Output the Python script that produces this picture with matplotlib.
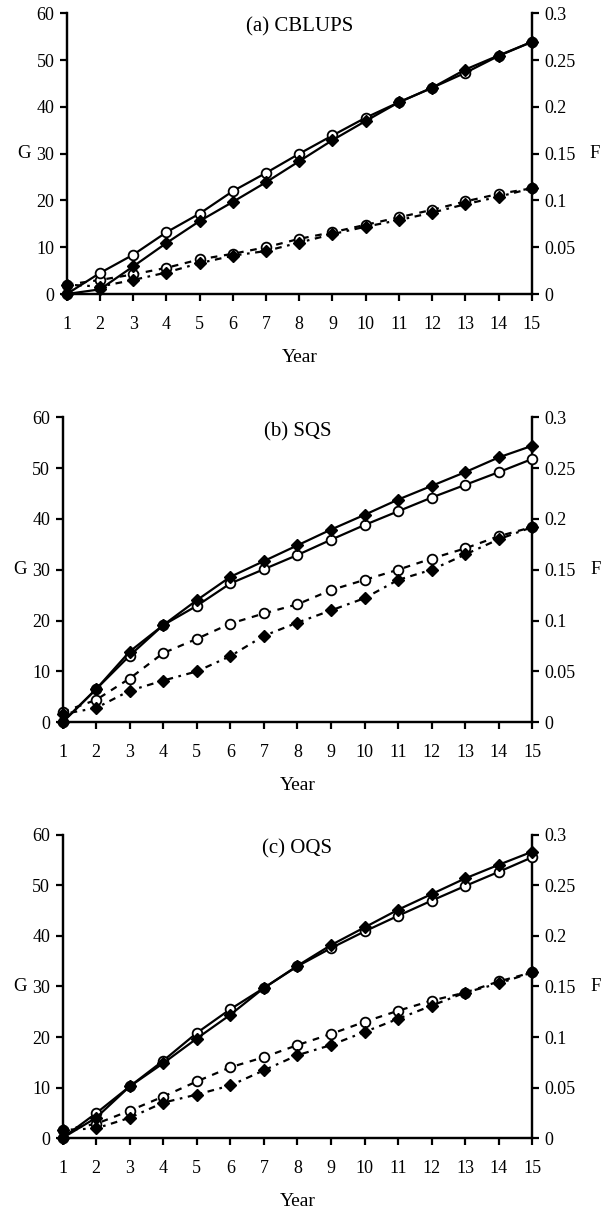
import matplotlib
matplotlib.use("Agg")
import matplotlib.pyplot as plt

plt.rcParams['font.family'] = ['Liberation Serif', 'DejaVu Serif']

years = list(range(1, 16))

# panel (a) CBLUPS
a_g_circle = [0, 4.5, 8.4, 13.2, 17.2, 22.0, 25.9, 30.0, 33.9, 37.7, 41.0, 44.1, 47.3, 50.9, 53.9]
a_g_diamond = [0, 1.0, 5.9, 10.9, 15.6, 19.7, 23.9, 28.4, 32.9, 37.0, 41.0, 44.1, 48.0, 51.0, 53.9]
a_f_circle = [0.010, 0.015, 0.021, 0.028, 0.037, 0.043, 0.050, 0.059, 0.066, 0.074, 0.082, 0.090, 0.099, 0.107, 0.113]
a_f_diamond = [0.010, 0.008, 0.015, 0.023, 0.033, 0.041, 0.046, 0.055, 0.064, 0.072, 0.079, 0.087, 0.096, 0.104, 0.113]

# panel (b) SQS
b_g_circle = [0, 6.5, 13.1, 19.1, 22.9, 27.3, 30.1, 32.9, 35.9, 38.8, 41.5, 44.2, 46.7, 49.2, 51.8]
b_g_diamond = [0, 6.5, 13.9, 19.1, 24.0, 28.6, 31.7, 34.8, 37.9, 40.8, 43.8, 46.5, 49.2, 52.1, 54.4]
b_f_circle = [0.010, 0.022, 0.043, 0.068, 0.082, 0.097, 0.107, 0.116, 0.130, 0.140, 0.150, 0.161, 0.171, 0.183, 0.192]
b_f_diamond = [0.008, 0.014, 0.031, 0.041, 0.050, 0.065, 0.085, 0.098, 0.110, 0.122, 0.140, 0.150, 0.165, 0.180, 0.192]

# panel (c) OQS
c_g_circle = [0, 4.9, 10.2, 15.3, 20.8, 25.5, 29.7, 34.0, 37.6, 40.9, 44.0, 47.0, 49.9, 52.7, 55.6]
c_g_diamond = [0, 4.0, 10.2, 14.8, 19.7, 24.4, 29.7, 34.1, 38.2, 41.7, 45.2, 48.3, 51.4, 54.1, 56.7]
c_f_circle = [0.008, 0.014, 0.027, 0.041, 0.056, 0.070, 0.080, 0.092, 0.103, 0.115, 0.126, 0.136, 0.144, 0.155, 0.164]
c_f_diamond = [0.008, 0.0095, 0.020, 0.035, 0.043, 0.052, 0.067, 0.082, 0.092, 0.105, 0.118, 0.131, 0.144, 0.153, 0.164]

panels = [
    ("(a) CBLUPS", a_g_circle, a_g_diamond, a_f_circle, a_f_diamond, [0.110, 0.759, 0.766, 0.230]),
    ("(b) SQS", b_g_circle, b_g_diamond, b_f_circle, b_f_diamond, [0.103, 0.408, 0.774, 0.250]),
    ("(c) OQS", c_g_circle, c_g_diamond, c_f_circle, c_f_diamond, [0.103, 0.0672, 0.774, 0.2484]),
]

fig = plt.figure(figsize=(6.07, 12.2), dpi=100)

for title, g_c, g_d, f_c, f_d, rect in panels:
    ax = fig.add_axes(rect)
    ax2 = ax.twinx()

    # G on the left axis
    ax.plot(years, g_c, color='black', lw=1.6, marker='o', ms=7,
            mfc='white', mec='black', mew=1.3, clip_on=False, zorder=3)
    ax.plot(years, g_d, color='black', lw=1.6, marker='D', ms=6.3,
            mfc='black', mec='black', clip_on=False, zorder=4)

    # F on the right axis
    ax2.plot(years, f_c, color='black', lw=1.6, ls=(0, (3, 3)), marker='o', ms=7,
             mfc='white', mec='black', mew=1.3, clip_on=False, zorder=3)
    ax2.plot(years, f_d, color='black', lw=1.6, ls=(0, (1.2, 2.5, 3, 2.5)), marker='D', ms=6.3,
             mfc='black', mec='black', clip_on=False, zorder=4)

    ax.set_xlim(1, 15)
    ax.set_ylim(0, 60)
    ax2.set_ylim(0, 0.3)
    ax.set_xticks(years)
    ax.set_yticks(range(0, 61, 10))
    ax2.set_yticks([0, 0.05, 0.1, 0.15, 0.2, 0.25, 0.3])
    ax2.set_yticklabels(['0', '0.05', '0.1', '0.15', '0.2', '0.25', '0.3'])

    for a in (ax, ax2):
        a.spines['top'].set_visible(False)
        for s in a.spines.values():
            s.set_linewidth(1.6)
        a.tick_params(direction='out', length=5, width=1.6, labelsize=13, pad=4)
    ax.tick_params(axis='x', pad=11)
    ax.set_zorder(ax2.get_zorder() + 1)
    ax.patch.set_visible(False)

    ax.set_ylabel('G', fontsize=13.5, rotation=0, labelpad=9, va='center')
    ax2.set_ylabel('F', fontsize=13.5, rotation=0, labelpad=14, va='center')
    ax.set_xlabel('Year', fontsize=14, labelpad=11)
    ax.text(0.5, 0.985, title, transform=ax.transAxes, ha='center', va='top', fontsize=15)

fig.savefig('out.png', dpi=100)
